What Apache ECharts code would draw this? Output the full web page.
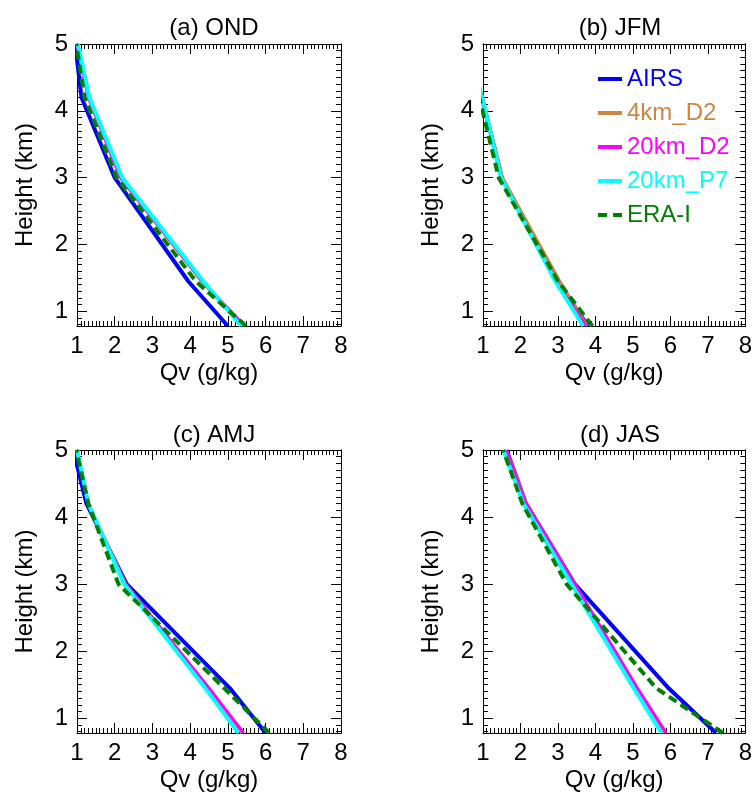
<!DOCTYPE html>
<html><head><meta charset="utf-8">
<script src="https://cdn.jsdelivr.net/npm/echarts@6/dist/echarts.min.js"></script>
<style>html,body{margin:0;padding:0;background:#fff}#c{width:755px;height:793px}</style>
</head><body><div id="c"></div>
<script>
// ---- data ----
const levels = [0.78, 1.45, 3.0, 4.2, 5.0];           // height (km)
const seriesNames = ['AIRS', '4km_D2', '20km_D2', '20km_P7', 'ERA-I'];
const panelTitles = ['(a) OND', '(b) JFM', '(c) AMJ', '(d) JAS'];
const xTicks = [1, 2, 3, 4, 5, 6, 7, 8];
const yTicks = [1, 2, 3, 4, 5];

// Qv (g/kg) at each level, per panel
const OND_AIRS    = [5.00, 3.95, 2.00, 1.12, 0.95];
const OND_4km_D2  = [5.40, 4.30, 2.15, 1.30, 1.00];
const OND_20km_D2 = [5.45, 4.32, 2.15, 1.30, 1.00];
const OND_20km_P7 = [5.35, 4.35, 2.20, 1.33, 1.02];
const OND_ERAI    = [5.48, 4.15, 2.05, 1.20, 0.98];

const JFM_AIRS    = [3.80, 2.98, 1.50, 0.97, 0.55];
const JFM_4km_D2  = [3.78, 3.05, 1.52, 0.98, 0.56];
const JFM_20km_D2 = [3.75, 2.95, 1.48, 0.97, 0.55];
const JFM_20km_P7 = [3.67, 2.93, 1.48, 0.98, 0.56];
const JFM_ERAI    = [3.92, 3.00, 1.42, 0.90, 0.50];

const AMJ_AIRS    = [6.00, 5.05, 2.32, 1.25, 0.90];
const AMJ_4km_D2  = [5.37, 4.50, 2.30, 1.30, 1.00];
const AMJ_20km_D2 = [5.42, 4.50, 2.28, 1.30, 1.00];
const AMJ_20km_P7 = [5.28, 4.40, 2.25, 1.30, 1.00];
const AMJ_ERAI    = [6.10, 4.90, 2.10, 1.30, 0.98];

const JAS_AIRS    = [7.22, 5.95, 3.45, 2.15, 1.63];
const JAS_4km_D2  = [5.84, 5.10, 3.45, 2.16, 1.63];
const JAS_20km_D2 = [5.89, 5.12, 3.45, 2.15, 1.62];
const JAS_20km_P7 = [5.76, 5.02, 3.36, 2.08, 1.54];
const JAS_ERAI    = [7.40, 5.62, 3.23, 2.05, 1.54];

const panels = [
  [OND_AIRS, OND_4km_D2, OND_20km_D2, OND_20km_P7, OND_ERAI],
  [JFM_AIRS, JFM_4km_D2, JFM_20km_D2, JFM_20km_P7, JFM_ERAI],
  [AMJ_AIRS, AMJ_4km_D2, AMJ_20km_D2, AMJ_20km_P7, AMJ_ERAI],
  [JAS_AIRS, JAS_4km_D2, JAS_20km_D2, JAS_20km_P7, JAS_ERAI]
];

// ---- styles ----
const colors = ['#0000ff', '#cd853f', '#ff00ff', '#00ffff', '#008000'];
const widths = [4, 3, 3, 4, 4];
const lineTypes = ['solid', 'solid', 'solid', 'solid', [9, 5]];
const solidIcon = 'path://M0,0 L24,0 L24,4 L0,4 Z';
const dashIcon = 'path://M0,0 L9,0 L9,4 L0,4 Z M15,0 L24,0 L24,4 L15,4 Z';
const FONT = "'Liberation Sans', Arial, Helvetica, sans-serif";
const FS = 24;

const grids = [
  {left: 77, top: 44, width: 264, height: 282},
  {left: 483, top: 44, width: 263, height: 282},
  {left: 77, top: 450, width: 264, height: 283},
  {left: 483, top: 450, width: 263, height: 283}
];
const titlePos = [[209, 11], [615, 11], [209, 418], [615, 418]];

const yMin = 0.78, yMax = 5;
const yMinor = [];
for (let k = 8; k <= 49; k++) { if (k % 10 !== 0) yMinor.push(k / 10); }

const xAxes = [], yAxes = [], series = [];
const lineCol = '#000';
grids.forEach((g, i) => {
  ['bottom', 'top'].forEach(pos => {
    xAxes.push({
      gridIndex: i, type: 'value', position: pos, min: xTicks[0], max: xTicks[xTicks.length - 1], interval: 1,
      axisLine: {show: true, onZero: false, lineStyle: {color: lineCol, width: 1}},
      axisTick: {show: true, inside: true, length: 10, lineStyle: {color: lineCol}},
      minorTick: {show: true, splitNumber: 10, length: 5, lineStyle: {color: lineCol}},
      splitLine: {show: false},
      axisLabel: {show: pos === 'bottom', fontSize: FS, fontFamily: FONT, color: '#000', margin: 8},
      name: pos === 'bottom' ? 'Qv (g/kg)' : '', nameLocation: 'middle', nameGap: 35,
      nameTextStyle: {fontSize: FS, fontFamily: FONT, color: '#000'}
    });
  });
  ['left', 'right'].forEach(pos => {
    [true, false].forEach(major => {
      yAxes.push({
        gridIndex: i, type: 'value', position: pos, min: yMin, max: yMax,
        axisLine: {show: true, onZero: false, lineStyle: {color: lineCol, width: 1}},
        axisTick: {show: true, inside: true, length: major ? 10 : 5, customValues: major ? yTicks : yMinor, lineStyle: {color: lineCol}},
        splitLine: {show: false},
        axisLabel: {show: pos === 'left' && major, customValues: yTicks, fontSize: FS, fontFamily: FONT, color: '#000', margin: 9},
        name: (pos === 'left' && major) ? 'Height (km)' : '', nameLocation: 'middle', nameGap: 40,
        nameTextStyle: {fontSize: FS, fontFamily: FONT, color: '#000'}
      });
    });
  });
  panels[i].forEach((vals, s) => {
    series.push({
      name: seriesNames[s], type: 'line', xAxisIndex: i * 2, yAxisIndex: i * 4,
      data: levels.map((h, j) => [vals[j], h]),
      symbol: 'none', showSymbol: false, clip: true, silent: true, z: 2 + s,
      lineStyle: {color: colors[s], width: widths[s], type: lineTypes[s]},
      itemStyle: {color: colors[s]}
    });
  });
});

const option = {
  animation: false,
  backgroundColor: '#fff',
  title: panelTitles.map((t, i) => ({
    text: t, left: titlePos[i][0], top: titlePos[i][1], textAlign: 'center',
    textStyle: {fontSize: FS, fontWeight: 'normal', fontFamily: FONT, color: '#000'}
  })),
  legend: {
    orient: 'vertical', left: 593, top: 62, itemWidth: 24, itemHeight: 4, itemGap: 10,
    data: seriesNames.map((n, s) => ({
      name: n, icon: s === 4 ? dashIcon : solidIcon,
      itemStyle: {color: colors[s]}, textStyle: {color: colors[s]}
    })),
    textStyle: {fontSize: FS, fontFamily: FONT, lineHeight: 24},
    selectedMode: false
  },
  grid: grids.map(g => Object.assign({containLabel: false}, g)),
  xAxis: xAxes,
  yAxis: yAxes,
  series: series
};
echarts.init(document.getElementById('c'), null, {renderer: 'canvas'}).setOption(option);
</script>
</body></html>
